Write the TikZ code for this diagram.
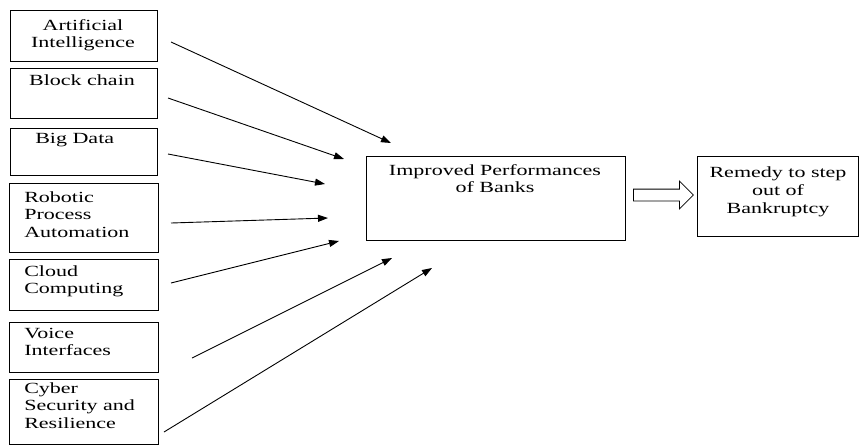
\documentclass[tikz,border=0pt]{standalone}
\usepackage{fontspec}
\setmainfont{Liberation Serif}
\usetikzlibrary{arrows.meta,shapes.arrows}
\tikzset{
  box/.style={draw=black, line width=1pt, inner sep=0pt, anchor=north west},
  txt/.style={inner sep=0pt, font=\fontsize{15.5}{17.5}\selectfont, xscale=1.42, transform shape},
  lt/.style={txt, anchor=north west, align=left},
  ct/.style={txt, anchor=north, align=center},
  conn/.style={line width=0.9pt, -{Triangle[length=10pt,width=7pt]}},
}
\begin{document}
\begin{tikzpicture}[x=1pt,y=-1pt]
\useasboundingbox (0,0) rectangle (861,445);
% boxes
\node[box, minimum width=147.5pt, minimum height=51pt] (b1) at (9.5,10) {};
\node[box, minimum width=147.5pt, minimum height=50pt] (b2) at (9.5,68) {};
\node[box, minimum width=147.5pt, minimum height=47pt] (b3) at (9.5,128) {};
\node[box, minimum width=149pt, minimum height=69pt] (b4) at (9,183) {};
\node[box, minimum width=149pt, minimum height=51pt] (b5) at (9,259) {};
\node[box, minimum width=149pt, minimum height=50pt] (b6) at (9,322) {};
\node[box, minimum width=149pt, minimum height=65pt] (b7) at (9,379) {};
\node[box, minimum width=259pt, minimum height=84pt] (main) at (366,156) {};
\node[box, minimum width=161pt, minimum height=80pt] (rem) at (697,156) {};
% texts
\node[ct] (t1) at (83,17.75) {\strut Artificial\\Intelligence};
\node[ct] (t2) at (82,72.75) {\strut Block chain};
\node[lt] (t3) at (35,130.75) {\strut Big Data};
\node[lt] (t4) at (24,189.75) {\strut Robotic\\Process\\Automation};
\node[lt] (t5) at (24,263.75) {\strut Cloud\\Computing};
\node[lt] (t6) at (24,325.75) {\strut Voice\\Interfaces};
\node[lt] (t7) at (24,380.75) {\strut Cyber\\Security and\\Resilience};
\node[ct] (tm) at (495,162.75) {\strut Improved Performances\\of Banks};
\node[ct, font=\fontsize{15.5}{18}\selectfont] (tr) at (778,164.4) {\strut Remedy to step\\out of\\Bankruptcy};
% connector ends
\coordinate (s1) at (171,42);  \coordinate (e1) at (391,143);
\coordinate (s2) at (168,98);  \coordinate (e2) at (344,159);
\coordinate (s3) at (168,154); \coordinate (e3) at (325,184);
\coordinate (s4) at (171,223); \coordinate (e4) at (328,218);
\coordinate (s5) at (171,283); \coordinate (e5) at (339,241);
\coordinate (s6) at (192,358); \coordinate (e6) at (392,258);
\coordinate (s7) at (164,432); \coordinate (e7) at (432,268);
\foreach \i in {1,...,7} {\draw[conn] (s\i) -- (e\i);}
% hollow arrow
\node[single arrow, draw=black, line width=0.8pt, inner xsep=0pt, inner ysep=5.5pt,
      minimum height=60pt, single arrow head extend=8pt, anchor=tail] (ha) at (633,195) {};
\end{tikzpicture}
\end{document}
